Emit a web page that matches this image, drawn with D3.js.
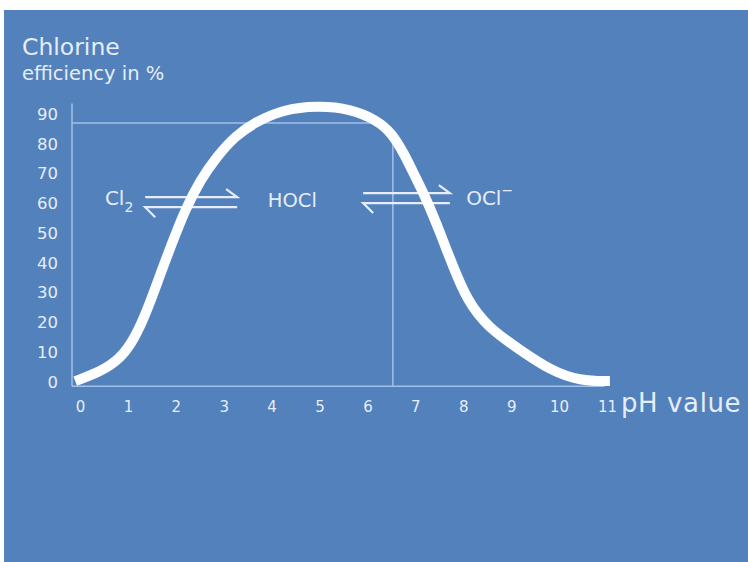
<!DOCTYPE html>
<html>
<head>
<meta charset="utf-8">
<script src="https://cdn.jsdelivr.net/npm/d3@7"></script>
<style>
  html, body { margin: 0; padding: 0; background: #ffffff; }
  svg { display: block; }
</style>
</head>
<body>
<div id="chart"></div>
<script>
  // tick labels
  const phTicks = [0, 1, 2, 3, 4, 5, 6, 7, 8, 9, 10, 11];
  const effTicks = [0, 10, 20, 30, 40, 50, 60, 70, 80, 90];

  // efficiency curve (pH, %)
  const curvePH = [-0.1, 0.42, 0.84, 1.15, 1.42, 1.67, 1.92, 2.19, 2.51, 2.86, 3.24, 3.65,
    4.24, 4.95, 5.64, 6.2, 6.51, 6.78, 6.95, 7.24, 7.52, 7.79, 8.08, 8.5, 9.19, 9.81, 10.44, 11.06];
  const curveEff = [0.3, 3.4, 7.7, 14.8, 24.8, 35.9, 46.6, 57.7, 67.8, 75.8, 82.6, 87.2,
    91.5, 92.8, 91.8, 87.9, 83.6, 76.2, 70.5, 61.1, 50.0, 38.6, 27.5, 18.5, 10.7, 4.0, 0.3, 0.3];

  // guide lines
  const guideEff = 87;     // horizontal line
  const guideEndPH = 6.3;
  const guidePH = 6.53;    // vertical line
  const guideTopEff = 83;

  const width = 748,
    height = 562;

  const bg = "#5381bc",
    textColor = "#e6edf8",
    lineColor = "#a3c0e8",
    font = "'DejaVu Sans', Verdana, sans-serif";

  const x = d3.scaleLinear().domain([0, 11]).range([80, 607]);
  const y = d3.scaleLinear().domain([0, 90]).range([382, 114]);

  const svg = d3.select("#chart")
    .append("svg")
    .attr("width", width)
    .attr("height", height);

  svg.append("rect")
    .attr("x", 4)
    .attr("y", 10)
    .attr("width", width - 4)
    .attr("height", height - 10)
    .attr("fill", bg);

  // titles
  svg.append("text")
    .attr("x", 22)
    .attr("y", 55)
    .attr("fill", textColor)
    .style("font-family", font)
    .style("font-size", "23.5px")
    .text("Chlorine");

  svg.append("text")
    .attr("x", 22)
    .attr("y", 80)
    .attr("fill", textColor)
    .style("font-family", font)
    .style("font-size", "19.5px")
    .text("efficiency in %");

  // axis lines
  svg.append("line")
    .attr("x1", 72).attr("x2", 72)
    .attr("y1", y(93.5)).attr("y2", y(-1.4))
    .attr("stroke", lineColor)
    .attr("stroke-width", 1.5);

  svg.append("line")
    .attr("x1", 72).attr("x2", x(10.95))
    .attr("y1", y(-1.4)).attr("y2", y(-1.4))
    .attr("stroke", lineColor)
    .attr("stroke-width", 1.5);

  // guide lines
  svg.append("line")
    .attr("x1", 72).attr("x2", x(guideEndPH))
    .attr("y1", y(guideEff)).attr("y2", y(guideEff))
    .attr("stroke", lineColor)
    .attr("stroke-width", 1.5);

  svg.append("line")
    .attr("x1", x(guidePH)).attr("x2", x(guidePH))
    .attr("y1", y(guideTopEff)).attr("y2", y(-1.4))
    .attr("stroke", lineColor)
    .attr("stroke-width", 1.5);

  // axes (labels only)
  const yAxis = d3.axisLeft(y).tickValues(effTicks).tickSize(0).tickPadding(0);
  const xAxis = d3.axisBottom(x).tickValues(phTicks).tickSize(0).tickPadding(0);

  const gy = svg.append("g")
    .attr("transform", "translate(58,0)")
    .call(yAxis);
  gy.select(".domain").remove();
  gy.selectAll("text")
    .attr("fill", textColor)
    .style("font-family", font)
    .style("font-size", "16.5px");

  const gx = svg.append("g")
    .attr("transform", "translate(0,401)")
    .call(xAxis);
  gx.select(".domain").remove();
  gx.selectAll("text")
    .attr("fill", textColor)
    .style("font-family", font)
    .style("font-size", "15px");

  svg.append("text")
    .attr("x", 621)
    .attr("y", 412)
    .attr("fill", textColor)
    .style("font-family", font)
    .style("font-size", "26px")
    .style("letter-spacing", "0.6px")
    .text("pH value");

  // equilibrium arrows
  function equilibrium(x0, x1, yTop, yBot) {
    const g = svg.append("g")
      .attr("fill", "none")
      .attr("stroke", textColor)
      .attr("stroke-width", 2.2);
    g.append("path")
      .attr("d", `M${x(x0)},${y(yTop)}H${x(x1)}l-11,-8`);
    g.append("path")
      .attr("d", `M${x(x1)},${y(yBot)}H${x(x0)}l10,10`);
  }
  equilibrium(1.36, 3.28, 62.1, 58.7);
  equilibrium(5.91, 7.72, 63.4, 60.1);

  // species labels
  const cl2 = svg.append("text")
    .attr("x", x(0.52))
    .attr("y", y(59.4))
    .attr("fill", textColor)
    .style("font-family", font)
    .style("font-size", "20px");
  cl2.append("tspan").text("Cl");
  cl2.append("tspan").attr("dy", 7).style("font-size", "14px").text("2");

  svg.append("text")
    .attr("x", x(3.92))
    .attr("y", y(58.7))
    .attr("fill", textColor)
    .style("font-family", font)
    .style("font-size", "19.5px")
    .text("HOCl");

  const ocl = svg.append("text")
    .attr("x", x(8.06))
    .attr("y", y(59.4))
    .attr("fill", textColor)
    .style("font-family", font)
    .style("font-size", "20px");
  ocl.append("tspan").text("OCl");
  ocl.append("tspan").attr("dy", -10).style("font-size", "14px").text("\u2212");

  // curve
  const line = d3.line()
    .x((d, i) => x(curvePH[i]))
    .y((d, i) => y(curveEff[i]))
    .curve(d3.curveBasis);

  svg.append("path")
    .datum(curvePH)
    .attr("d", line)
    .attr("fill", "none")
    .attr("stroke", "#fdfeff")
    .attr("stroke-width", 10);
</script>
</body>
</html>
